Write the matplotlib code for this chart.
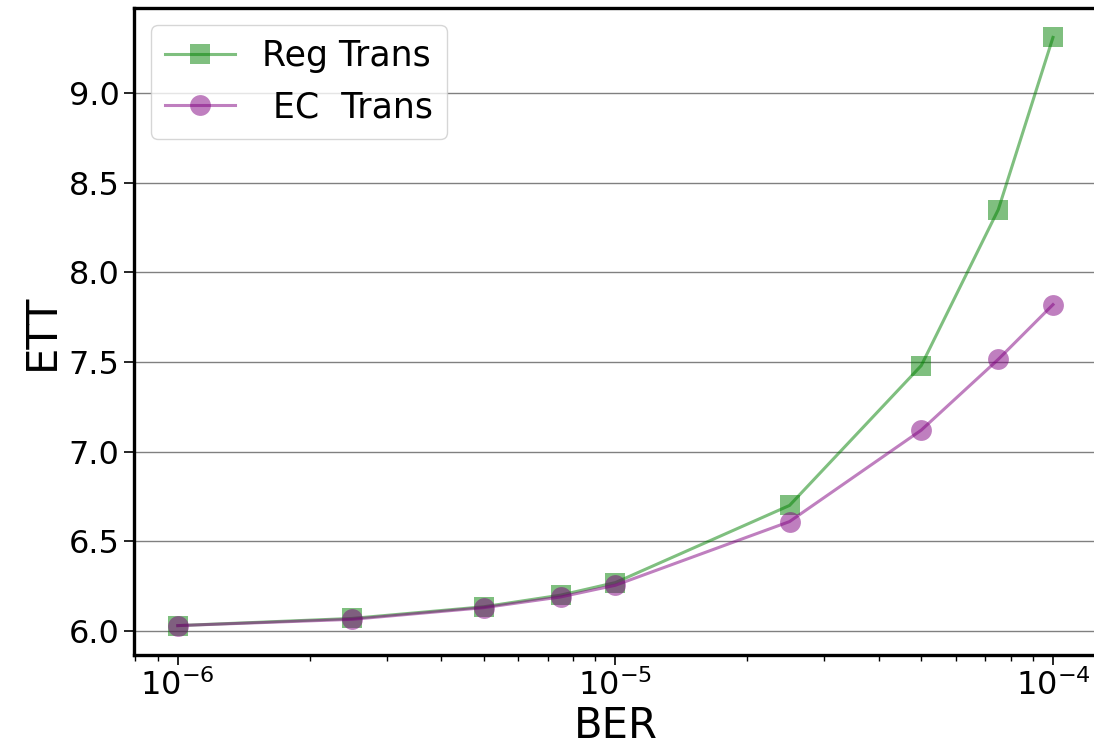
import matplotlib
matplotlib.use("Agg")
import matplotlib.pyplot as plt

ber = [1e-6, 2.5e-6, 5e-6, 7.5e-6, 1e-5, 2.5e-5, 5e-5, 7.5e-5, 1e-4]
reg_trans = [6.03, 6.07, 6.135, 6.20, 6.27, 6.70, 7.48, 8.35, 9.31]
ec_trans = [6.03, 6.065, 6.13, 6.19, 6.255, 6.61, 7.12, 7.515, 7.82]
labels = ["Reg Trans", " EC  Trans"]

fig = plt.figure(figsize=(10.94, 7.48), dpi=100)
ax = fig.add_axes([0.1225, 0.1243, 0.880, 0.865])

ax.plot(ber, reg_trans, color="green", alpha=0.5, marker="s", markersize=15,
        markeredgewidth=0, linewidth=2.2, label=labels[0])
ax.plot(ber, ec_trans, color="purple", alpha=0.5, marker="o", markersize=15,
        markeredgewidth=0, linewidth=2.2, label=labels[1])
ax.set_xscale("log")

ax.yaxis.grid(True, color="gray", linewidth=1)
ax.set_axisbelow(True)

for s in ["left", "bottom", "top", "right"]:
    ax.spines[s].set_linewidth(2.4)

ax.tick_params(axis="both", which="major", labelsize=23, width=1.2, length=7)
ax.tick_params(axis="x", which="minor", width=1, length=4)
ax.set_xlabel("BER", fontsize=30, labelpad=2)
ax.set_ylabel("ETT", fontsize=30)

ax.legend(loc="upper left", fontsize=25, markerscale=1.0, handlelength=2.0)

fig.savefig("out.png", dpi=100)
